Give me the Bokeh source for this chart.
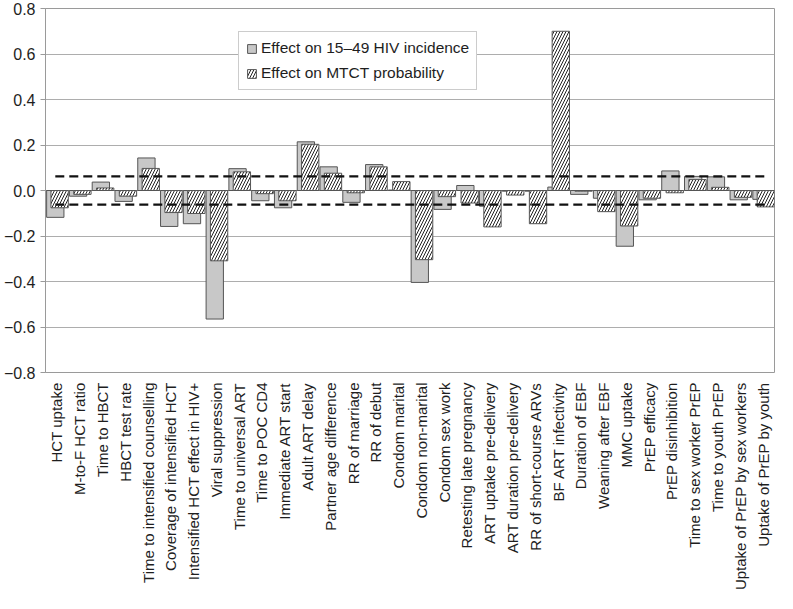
import math
from bokeh.plotting import figure
from bokeh.models import (Range1d, FixedTicker, CustomJSTickFormatter, Legend,
                          LegendItem, ColumnDataSource, Span)
from bokeh.transform import dodge
from bokeh.embed import file_html
from bokeh.resources import INLINE

categories = [
    "HCT uptake", "M-to-F HCT ratio", "Time to HBCT", "HBCT test rate",
    "Time to intensified counselling", "Coverage of intensified HCT",
    "Intensified HCT effect in HIV+", "Viral suppression", "Time to universal ART",
    "Time to POC CD4", "Immediate ART start", "Adult ART delay",
    "Partner age difference", "RR of marriage", "RR of debut", "Condom marital",
    "Condom non-marital", "Condom sex work", "Retesting late pregnancy",
    "ART uptake pre-delivery", "ART duration pre-delivery", "RR of short-course ARVs",
    "BF ART infectivity", "Duration of EBF", "Weaning after EBF", "MMC uptake",
    "PrEP efficacy", "PrEP disinhibition", "Time to sex worker PrEP",
    "Time to youth PrEP", "Uptake of PrEP by sex workers", "Uptake of PrEP by youth",
]

incidence_effect = [
    -0.118, -0.025, 0.037, -0.048, 0.143, -0.158, -0.146, -0.565, 0.096, -0.045,
    -0.076, 0.214, 0.104, -0.052, 0.114, 0.002, -0.404, -0.083, 0.022, -0.069,
    -0.003, -0.003, 0.015, -0.017, -0.034, -0.245, -0.041, 0.086, 0.062, 0.060,
    -0.041, -0.039,
]

mtct_effect = [
    -0.076, -0.017, 0.011, -0.025, 0.097, -0.097, -0.101, -0.309, 0.082, -0.014,
    -0.045, 0.203, 0.076, -0.010, 0.104, 0.039, -0.304, -0.027, -0.055, -0.160,
    -0.020, -0.146, 0.700, -0.003, -0.093, -0.156, -0.034, -0.010, 0.048, 0.014,
    -0.030, -0.072,
]

thresholds = [0.062, -0.062]
y_ticks = [-0.8, -0.6, -0.4, -0.2, 0.0, 0.2, 0.4, 0.6, 0.8]
series_labels = ["Effect on 15\u201349 HIV incidence", "Effect on MTCT probability"]

FONT = "Liberation Sans"
TXT = "#1e1e1e"
n = len(categories)
xs = list(range(1, n + 1))
off_inc, off_mtct, bw = -0.07, 0.12, 0.76

src = ColumnDataSource(dict(x=xs, inc=incidence_effect, mtct=mtct_effect))

p = figure(width=777, height=593, output_backend="svg", toolbar_location=None,
           x_range=Range1d(0.5, n + 0.5), y_range=Range1d(-0.8, 0.8),
           min_border_top=8, min_border_right=3, min_border_left=2,
           min_border_bottom=0)
p.outline_line_color = "#9a9a9a"
p.background_fill_color = "white"
p.border_fill_color = "white"

# grid
p.xgrid.visible = False
p.ygrid.ticker = FixedTicker(ticks=y_ticks)
p.ygrid.grid_line_color = "#adadad"
p.ygrid.grid_line_width = 1

# zero axis line
p.add_layout(Span(location=0, dimension="width", line_color="#777777",
                  line_width=1, level="underlay"))

r1 = p.vbar(x=dodge("x", off_inc), top="inc", bottom=0, width=bw, source=src,
            fill_color="#c8c8c8", line_color="#555555", line_width=1)
r2 = p.vbar(x=dodge("x", off_mtct), top="mtct", bottom=0, width=bw, source=src,
            fill_color="white", line_color="#555555", line_width=1,
            hatch_pattern="/", hatch_color="#222222", hatch_scale=6,
            hatch_weight=1)

# dashed threshold lines
seg = ColumnDataSource(dict(x0=[1 + off_inc] * len(thresholds),
                            x1=[n + off_mtct] * len(thresholds),
                            y=thresholds))
p.segment(x0="x0", x1="x1", y0="y", y1="y", source=seg, line_color="#111111",
          line_width=2.2, line_dash="9 5")

# y axis
p.yaxis.ticker = FixedTicker(ticks=y_ticks)
p.yaxis.formatter = CustomJSTickFormatter(
    code="return (tick < -1e-9 ? '\u2212' : '') + Math.abs(tick).toFixed(1);")
p.yaxis.axis_line_color = "#9a9a9a"
p.yaxis.major_tick_line_color = "#9a9a9a"
p.yaxis.major_tick_out = 5
p.yaxis.major_tick_in = 0
p.yaxis.minor_tick_line_color = None
p.yaxis.major_label_text_font = FONT
p.yaxis.major_label_text_font_size = "16px"
p.yaxis.major_label_text_color = TXT
p.yaxis.major_label_standoff = 5

# x axis
p.xaxis.ticker = FixedTicker(ticks=xs)
p.xaxis.formatter = CustomJSTickFormatter(
    args=dict(labels=categories),
    code="const i = Math.round(tick) - 1; return (i >= 0 && i < labels.length) ? labels[i] : '';")
p.xaxis.major_label_orientation = math.pi / 2
p.xaxis.axis_line_color = None
p.xaxis.major_tick_line_color = None
p.xaxis.minor_tick_line_color = None
p.xaxis.major_label_text_font = FONT
p.xaxis.major_label_text_font_size = "15px"
p.xaxis.major_label_text_color = TXT
p.xaxis.major_label_standoff = 4

legend = Legend(items=[LegendItem(label=series_labels[0], renderers=[r1]),
                       LegendItem(label=series_labels[1], renderers=[r2])],
                location=(193, 282))
legend.label_text_font = FONT
legend.label_text_font_size = "15.5px"
legend.label_text_color = TXT
legend.glyph_width = 11
legend.glyph_height = 11
legend.label_standoff = 4
legend.spacing = 7
legend.padding = 7
legend.margin = 0
legend.border_line_color = "#9a9a9a"
legend.background_fill_alpha = 1
p.add_layout(legend)

open("out.html", "w").write(file_html(p, INLINE))
